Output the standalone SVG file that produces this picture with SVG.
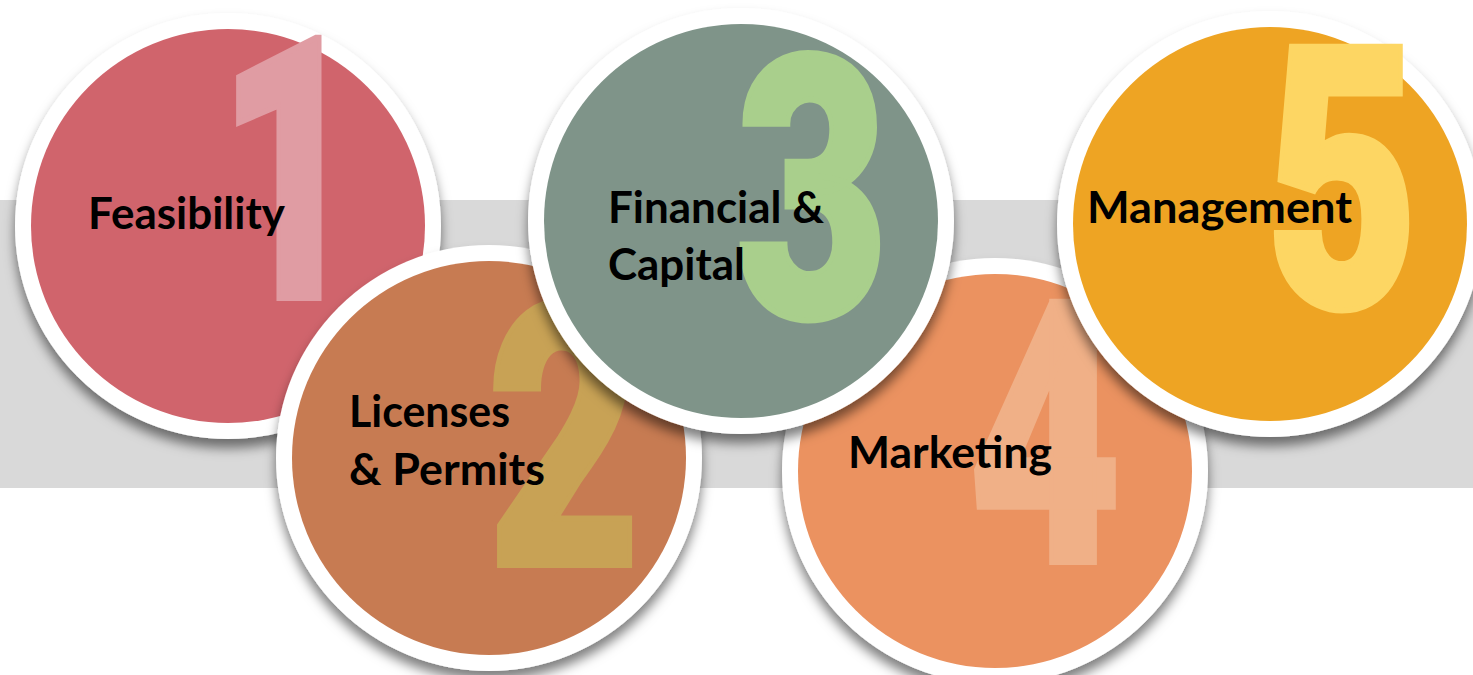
<svg xmlns="http://www.w3.org/2000/svg" width="1473" height="675" viewBox="0 0 1473 675">
<defs>
<filter id="sh" x="-20%" y="-20%" width="140%" height="145%">
<feDropShadow dx="0" dy="9" stdDeviation="6" flood-color="#000" flood-opacity="0.5"/>
</filter>
</defs>
<style>
.ring{fill:#fff;filter:url(#sh)}
.lbl{font-family:Lato,"Open Sans","Liberation Sans",sans-serif;font-weight:700;font-size:44px;fill:#000}
.num{font-family:Roboto,Inter,"Liberation Sans",sans-serif;font-weight:900;font-size:366px;text-anchor:middle;stroke-width:6;stroke-linejoin:miter;stroke-miterlimit:10}
</style>
<rect x="0" y="200" width="1473" height="288" fill="#D9D9D9"/>
<g id="node1">
<circle class="ring" cx="228" cy="226" r="213"/>
<circle cx="228" cy="226" r="197" fill="#D0646C"/>
<text class="num" fill="#E09CA3" stroke="#E09CA3" transform="translate(290,298) scale(0.68,1)">1</text>
<text class="lbl" x="88" y="229" textLength="197" lengthAdjust="spacingAndGlyphs">Feasibility</text>
</g>
<g id="node2">
<circle class="ring" cx="489" cy="458" r="213"/>
<circle cx="489" cy="458" r="197" fill="#C77B52"/>
<text class="num" fill="#C8A255" stroke="#C8A255" transform="translate(564,565) scale(0.72,1)">2</text>
<text class="lbl" x="349" y="427" textLength="161" lengthAdjust="spacingAndGlyphs">Licenses</text>
<text class="lbl" x="349" y="485" textLength="196" lengthAdjust="spacingAndGlyphs">&amp; Permits</text>
</g>
<g id="node4">
<circle class="ring" cx="995" cy="471" r="213"/>
<circle cx="995" cy="471" r="197" fill="#EB9260"/>
<text class="num" fill="#F0B087" stroke="#F0B087" transform="translate(1045,562) scale(0.72,1)">4</text>
<text class="lbl" x="848" y="468" textLength="204" lengthAdjust="spacingAndGlyphs">Marketing</text>
</g>
<g id="node3">
<circle class="ring" cx="741" cy="221" r="213"/>
<circle cx="741" cy="221" r="197" fill="#7F9489"/>
<text class="num" fill="#A9CF8C" stroke="#A9CF8C" transform="translate(812,317) scale(0.72,1)">3</text>
<text class="lbl" x="608" y="223" textLength="216" lengthAdjust="spacingAndGlyphs">Financial &amp;</text>
<text class="lbl" x="608" y="280" textLength="137" lengthAdjust="spacingAndGlyphs">Capital</text>
</g>
<g id="node5">
<circle class="ring" cx="1270" cy="224" r="213"/>
<circle cx="1270" cy="224" r="197" fill="#EEA423"/>
<text class="num" fill="#FDD663" stroke="#FDD663" transform="translate(1342,307) scale(0.72,1)">5</text>
<text class="lbl" x="1087" y="223" textLength="265" lengthAdjust="spacingAndGlyphs">Management</text>
</g>
<g id="connectors"/>
</svg>
